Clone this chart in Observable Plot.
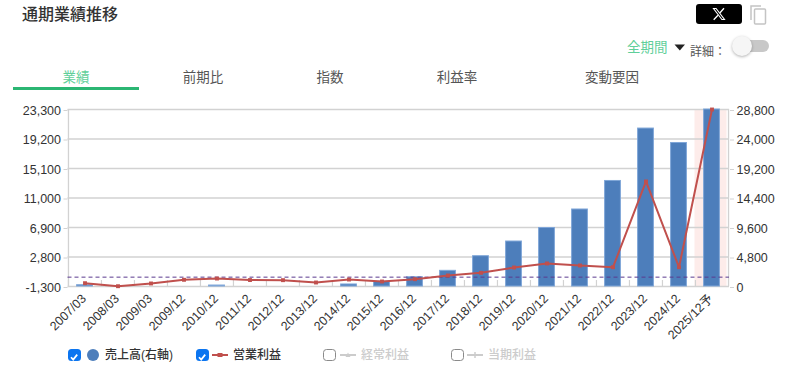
<!DOCTYPE html>
<html lang="ja"><head><meta charset="utf-8">
<script src="https://cdn.jsdelivr.net/npm/d3@7"></script>
<script src="https://cdn.jsdelivr.net/npm/@observablehq/plot@0.6"></script>
<style>
html,body{margin:0;padding:0;background:#fff;width:798px;height:376px;overflow:hidden}
body{font-family:"Liberation Sans","Noto Sans CJK JP",sans-serif;color:#333;position:relative}
.a{position:absolute;white-space:nowrap;line-height:1}
.tab{top:71px;font-size:13.5px;color:#555;transform:translateX(-50%)}
.box{position:absolute;top:348.5px;width:12.5px;height:12.5px;border-radius:3.5px;box-sizing:border-box}
.on{background:#0b75f0}
.off{border:1.5px solid #8a8a8a;background:#fff}
.lg{top:349px;font-size:12px;font-weight:500}
#chart{position:absolute;left:0;top:90px}
</style></head><body>
<div class="a" style="left:22px;top:7px;font-size:16px;font-weight:500;color:#333">通期業績推移</div>
<div class="a" style="left:696px;top:4px;width:46px;height:20px;background:#000;border-radius:3px"></div>
<svg class="a" style="left:712px;top:7px" width="14" height="14" fill="none"><path d="M1.5 1.5h2.6l8.4 11h-2.6z" stroke="#fff" stroke-width="1.1"/><path d="M12 1.2L7.8 6M6 8.2l-4.3 4.6" stroke="#fff" stroke-width="1.3"/></svg>
<svg class="a" style="left:750px;top:5px" width="17" height="20" fill="none" stroke="#c4c4c4" stroke-width="1.5"><path d="M1 15V1h10"/><rect x="4.5" y="4" width="11" height="15" rx="1"/></svg>
<div class="a" style="left:627px;top:41px;font-size:13.5px;color:#5fcf9a">全期間</div>
<svg class="a" style="left:674px;top:44px" width="12" height="7"><path d="M0.5 0.5h10.5l-5.2 6z" fill="#222"/></svg>
<div class="a" style="left:690px;top:46px;font-size:12px;color:#555">詳細：</div>
<div class="a" style="left:735px;top:40px;width:34px;height:12px;border-radius:6px;background:#c8c8c8"></div>
<div class="a" style="left:732px;top:36px;width:20px;height:20px;border-radius:10px;background:#f6f6f6;box-shadow:0 1px 3px rgba(0,0,0,.3)"></div>
<div class="a tab" style="left:76px;color:#5fcf9a">業績</div>
<div class="a tab" style="left:203px">前期比</div>
<div class="a tab" style="left:330px">指数</div>
<div class="a tab" style="left:457px">利益率</div>
<div class="a tab" style="left:612px">変動要因</div>
<div class="a" style="left:13px;top:87px;width:126px;height:3px;background:#2bb673"></div>
<div id="chart"></div>
<div class="box on"  style="left:68px"><svg width="12" height="12"><path d="M3 6.2l2.2 2.4 4-5" fill="none" stroke="#fff" stroke-width="1.7"/></svg></div>
<div class="a" style="left:87px;top:349px;width:12px;height:12px;border-radius:6px;background:#4d7ebb"></div>
<div class="a lg" style="left:105px">売上高(右軸)</div>
<div class="box on"  style="left:196px"><svg width="12" height="12"><path d="M3 6.2l2.2 2.4 4-5" fill="none" stroke="#fff" stroke-width="1.7"/></svg></div>
<svg class="a" style="left:212px;top:351px" width="17" height="8"><path d="M0 4h16" stroke="#c0504d" stroke-width="2"/><rect x="5.5" y="2" width="5" height="4" fill="#c0504d"/></svg>
<div class="a lg" style="left:233px">営業利益</div>
<div class="box off" style="left:323px"></div>
<svg class="a" style="left:340px;top:351px" width="17" height="8"><path d="M0 4h16" stroke="#ccc" stroke-width="2"/><path d="M8 1.5l2.5 4.5h-5z" fill="#ccc"/></svg>
<div class="a lg" style="left:361px;color:#ccc">経常利益</div>
<div class="box off" style="left:451px"></div>
<svg class="a" style="left:467px;top:351px" width="17" height="8"><path d="M0 4h16" stroke="#ccc" stroke-width="2"/><path d="M8 1v6" stroke="#ccc" stroke-width="1.5"/></svg>
<div class="a lg" style="left:488px;color:#ccc">当期利益</div>
<script>
const periods = ["2007/03","2008/03","2009/03","2009/12","2010/12","2011/12","2012/12","2013/12","2014/12","2015/12","2016/12","2017/12","2018/12","2019/12","2020/12","2021/12","2022/12","2023/12","2024/12","2025/12予"];
const sales = [210,0,0,0,160,0,0,0,330,760,1500,2550,4930,7320,9520,12530,17170,25700,23350,28800];
const operatingProfit = [-840,-1260,-880,-370,-190,-400,-420,-745,-330,-605,-285,230,600,1340,1900,1620,1380,13300,1380,23300];
const leftTicks = [-1300,2800,6900,11000,15100,19200,23300];
const rightTicks = [0,4800,9600,14400,19200,24000,28800];
const forecast = ["2025/12予"];

// Right-axis values are placed on the shared left-axis scale.
const toLeft = v => -1300 + v * 24600 / 28800;
const toRight = v => Math.round((v + 1300) * 28800 / 24600);
const fmt = v => v.toLocaleString("en-US");
const rows = periods.map((p, i) => ({p, sale: toLeft(sales[i]), profit: operatingProfit[i]}));
const base = toLeft(0);
const gridC = "#d2d2d2", band = 33.075;

const plot = Plot.plot({
  width: 798, height: 262,
  marginLeft: 67.5, marginRight: 69, marginTop: 19, marginBottom: 66,
  style: {fontFamily: '"Liberation Sans","Noto Sans CJK JP",sans-serif', fontSize: "12px", color: "#333", background: "transparent"},
  x: {domain: periods, padding: 0, label: null},
  y: {domain: [-1300, 23300], label: null},
  marks: [
    Plot.barY(forecast, {x: d => d, y1: base, y2: 23300, fill: "#fdecea", insetLeft: -0.5, insetRight: 1.5}),
    Plot.ruleY(leftTicks, {stroke: gridC, strokeWidth: 1.3}),
    Plot.ruleX(periods, {x: d => d, dx: -band / 2, y1: base, y2: base + 830, stroke: gridC, strokeWidth: 1.2}),
    Plot.ruleX(periods.slice(0, 1), {x: d => d, dx: -band / 2, y1: base, y2: 23300, stroke: gridC, strokeWidth: 1.3}),
    Plot.ruleX(periods.slice(-1), {x: d => d, dx: band / 2, y1: base, y2: 23300, stroke: gridC, strokeWidth: 1.3}),
    Plot.barY(rows, {x: "p", y1: base, y2: "sale", fill: "#4d7ebb", stroke: "#7fa6d8", strokeWidth: 1, insetLeft: 8.6, insetRight: 8.6}),
    Plot.ruleY([0], {stroke: "#5b3a8e", strokeWidth: 1, strokeDasharray: "4,3"}),
    Plot.lineY(rows, {x: "p", y: "profit", stroke: "#c0504d", strokeWidth: 2}),
    Plot.dot(rows, {x: "p", y: "profit", symbol: "square", r: 2.2, fill: "#c0504d"}),
    Plot.axisY(leftTicks, {anchor: "left", tickSize: 4, tickPadding: 3, stroke: gridC, fill: "#333", fontSize: 12.5, dy: 1, tickFormat: fmt, label: null}),
    Plot.axisY(rightTicks.map(toLeft), {anchor: "right", tickSize: 4, tickPadding: 3, stroke: gridC, fill: "#333", fontSize: 12.5, dy: 1, tickFormat: v => fmt(toRight(v)), label: null}),
    Plot.axisX({tickRotate: -45, tickSize: 0, tickPadding: 8, dy: 2, dx: -1, fill: "#333", fontSize: 12.5, label: null})
  ]
});
document.getElementById("chart").appendChild(plot);
</script>
</body></html>
